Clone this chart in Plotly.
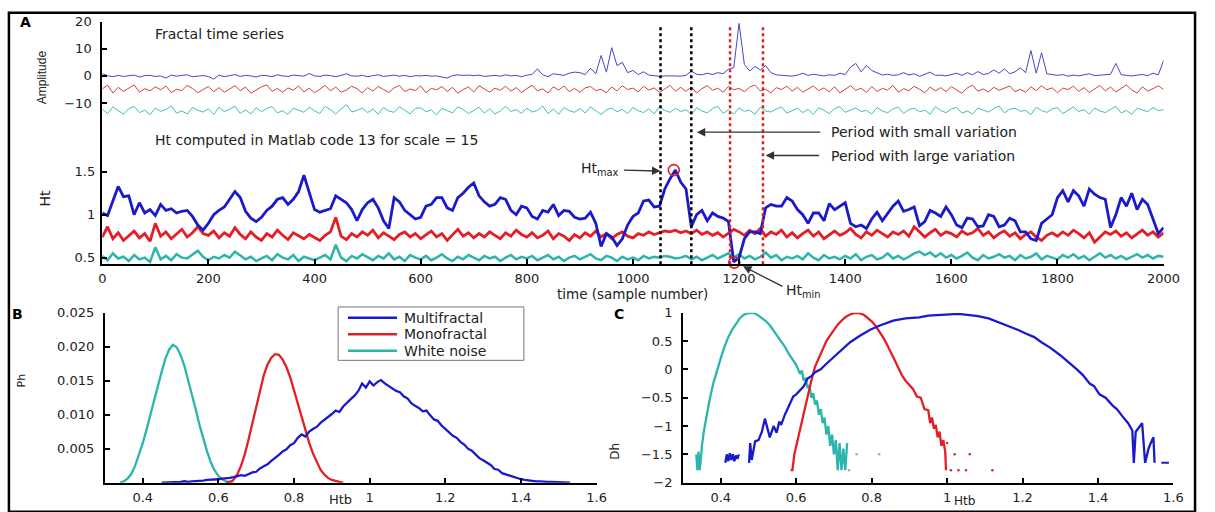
import numpy as np
import plotly.graph_objects as go

W, H = 1215, 512
FONT = "DejaVu Sans"


def px(x):
    return x / W


def py(y):
    return 1 - y / H


# ---------------- Panel A data (sample number every 10) ----------------
t = list(range(0, 2001, 10))

amp_multi = [
    0.8, 0.1, -0.3, 0.2, -0.2, 0.0, 0.3, -0.4, 0.1, 0.2,
    -0.2, 0.0, -0.8, 0.3, -0.1, 0.2, 0.4, -0.3, 0.0, 0.1,
    -0.2, -1.2, 0.3, -0.3, 0.1, 0.5, -0.2, 0.2, 0.0, -0.4,
    0.2, 0.1, -0.3, 0.4, 0.0, -0.2, 0.3, 0.1, -0.1, 0.9,
    0.0, -0.2, 0.3, 0.1, -0.3, 0.2, 0.8, 0.0, -0.1, 0.2,
    -0.3, 0.1, 0.4, -0.2, 0.0, 0.3, -0.1, 0.2, -0.3, 0.1,
    0.0, 0.2, -0.1, 0.0, -0.4, -0.8, 0.1, 0.4, 0.2, 0.3,
    0.1, 0.3, -0.2, 0.0, 0.2, -0.1, 0.4, 0.0, 0.2, -0.3,
    0.3, 0.5, 2.6, 0.4, -0.3, 0.8, 0.5, 0.2, 1.0, 1.4,
    1.2, 0.5, 2.8, 0.8, 7.5, 1.4, 10.4, 3.8, 5.0, 1.2,
    2.0, 0.5, 1.5, 0.3, 0.1, -0.2, 0.0, 0.1, 0.0, -0.1,
    0.2, 1.8, 0.6, 0.4, 1.0, 0.5, 1.2, 0.8, 2.5, 3.0,
    19.3, 4.2, 1.8, 3.5, 2.2, 3.8, 1.2, 0.4, 0.2, 0.1,
    -0.1, 0.3, 1.0, 0.2, 0.6, 0.3, 0.0, 0.4, 0.2, 1.0,
    0.5, 3.2, 4.6, 1.5, 3.8, 2.0, 1.0, 0.3, 0.6, 0.2,
    0.4, 1.2, 0.3, 0.8, -0.2, 0.5, 1.4, 0.2, 0.3, 0.0,
    0.6, 1.0, 0.2, 1.2, 0.4, 1.6, 0.5, 0.9, 2.2, 1.0,
    2.6, 0.8, 1.5, 3.0, 1.2, 9.3, 1.0, 8.5, 0.8, 0.4,
    0.2, 0.5, -0.1, 0.3, 0.0, 0.4, 0.8, 0.1, 0.2, 0.3,
    0.6, 4.6, 0.5, 0.2, 0.0, 0.3, 0.5, 0.1, 1.0, 0.4,
    5.7,
]

amp_mono = [
    -4.8, -3.4, -6.3, -4.2, -5.7, -4.4, -3.3, -6.0, -4.7, -5.5,
    -4.0, -5.1, -3.7, -6.1, -4.9, -5.4, -3.5, -4.6, -6.2, -5.0,
    -3.9, -5.8, -4.3, -6.0, -4.8, -3.6, -5.4, -4.1, -6.4, -5.1,
    -4.0, -3.3, -5.7, -4.6, -6.0, -4.4, -5.3, -3.7, -5.9, -4.5,
    -6.2, -4.9, -3.5, -5.5, -4.1, -6.0, -5.2, -3.8, -4.7, -6.3,
    -4.3, -5.6, -3.9, -5.0, -6.1, -4.4, -3.5, -5.8, -4.8, -5.4,
    -3.7, -6.2, -4.6, -5.1, -3.9, -5.7, -4.2, -6.4, -5.0, -4.1,
    -5.9, -3.6, -4.9, -6.0, -4.5, -5.3, -3.8, -5.6, -4.3, -6.1,
    -4.7, -3.4, -5.5, -4.8, -6.3, -4.0, -5.2, -3.7, -5.8, -4.6,
    -6.0, -4.4, -3.9, -5.4, -4.9, -6.2, -4.1, -5.5, -3.6, -5.0,
    -4.5, -5.9, -3.8, -5.2, -4.4, -6.1, -4.8, -3.5, -5.6, -4.2,
    -5.7, -4.0, -6.3, -4.7, -3.6, -5.3, -4.5, -6.0, -3.9, -5.1,
    -4.6, -5.8, -4.1, -3.4, -5.5, -4.9, -6.2, -4.3, -5.0, -3.8,
    -5.6, -4.2, -6.0, -4.8, -3.7, -5.4, -4.4, -5.9, -4.0, -6.3,
    -4.9, -3.6, -5.3, -4.5, -6.1, -3.9, -5.7, -4.6, -5.2, -3.5,
    -6.0, -4.7, -5.4, -3.8, -4.9, -6.2, -4.1, -5.5, -4.3, -5.8,
    -3.9, -5.0, -6.4, -4.4, -3.4, -5.6, -4.8, -5.9, -4.2, -5.3,
    -4.6, -3.7, -5.8, -4.9, -6.0, -4.0, -5.4, -3.6, -5.1, -4.4,
    -6.2, -4.5, -5.0, -3.8, -5.7, -4.3, -6.1, -4.8, -3.5, -5.5,
    -4.1, -5.9, -4.6, -3.3, -5.2, -6.3, -4.0, -5.6, -4.7, -3.6,
    -5.0,
]

amp_white = [
    -12.2, -13.9, -11.4, -12.8, -14.1, -12.0, -11.2, -13.5, -12.6, -14.3,
    -11.8, -13.0, -12.4, -11.0, -13.7, -12.9, -14.0, -11.6, -12.7, -13.3,
    -12.1, -14.2, -11.5, -13.1, -12.3, -11.1, -13.8, -12.5, -14.0, -11.7,
    -13.2, -12.0, -11.3, -13.6, -12.8, -14.2, -11.9, -12.6, -13.4, -11.5,
    -12.9, -13.8, -11.2, -12.4, -14.0, -12.1, -10.6, -13.3, -12.7, -11.8,
    -13.5, -12.2, -14.1, -11.6, -12.9, -13.4, -11.3, -12.6, -14.0, -12.0,
    -11.7, -13.2, -12.5, -14.3, -11.9, -12.8, -13.6, -11.4, -12.3, -13.9,
    -12.6, -11.5, -13.7, -12.1, -14.0, -12.9, -11.2, -13.1, -12.4, -13.8,
    -11.9, -13.3, -12.7, -11.1, -13.9, -12.2, -14.1, -11.6, -12.8, -13.4,
    -12.0, -13.7, -11.4, -12.9, -14.2, -12.5, -11.8, -13.2, -12.3, -13.9,
    -11.6, -12.8, -13.5, -12.1, -14.0, -11.3, -12.7, -13.4, -11.9, -13.1,
    -12.4, -14.2, -11.7, -12.9, -13.6, -12.0, -11.2, -13.8, -12.5, -14.0,
    -11.8, -13.0, -12.6, -14.1, -11.5, -12.9, -13.3, -12.2, -11.4, -13.7,
    -12.8, -11.9, -13.5, -12.3, -14.2, -11.7, -12.6, -13.9, -12.0, -11.3,
    -13.4, -12.5, -11.8, -13.1, -12.7, -14.0, -11.6, -12.9, -13.6, -12.1,
    -11.5, -13.8, -12.4, -11.9, -13.2, -12.6, -14.1, -11.3, -12.8, -13.5,
    -12.2, -11.6, -13.7, -12.9, -14.0, -11.8, -12.5, -13.3, -12.0, -11.1,
    -13.6, -12.3, -11.9, -13.0, -12.7, -14.2, -11.5, -12.8, -13.4, -12.1,
    -11.7, -13.9, -12.6, -11.4, -13.1, -12.4, -14.0, -11.8, -12.9, -13.5,
    -12.3, -11.2, -13.6, -12.7, -14.1, -11.9, -12.5, -13.2, -11.6, -12.8,
    -12.4,
]

ht_multi = [
    1.02, 0.99, 1.16, 1.33, 1.21, 1.22, 1.00, 1.14, 1.02, 1.06,
    0.99, 1.12, 1.05, 1.07, 1.02, 1.04, 1.05, 0.98, 0.88, 0.82,
    0.90, 1.00, 1.05, 1.09, 1.18, 1.27, 1.20, 1.04, 0.96, 0.92,
    0.97, 1.05, 1.10, 1.18, 1.20, 1.12, 1.18, 1.27, 1.46, 1.26,
    1.06, 1.03, 1.05, 1.07, 1.22, 1.18, 1.14, 1.06, 0.93, 1.06,
    1.14, 1.18, 1.08, 0.93, 0.84, 1.20, 1.15, 1.05, 1.00, 0.95,
    0.97, 1.10, 1.12, 1.20, 1.20, 1.08, 1.05, 1.20, 1.25, 1.32,
    1.37, 1.22, 1.15, 1.10, 1.12, 1.20, 1.18, 1.05, 1.00, 1.10,
    1.08, 0.98, 0.95, 1.05, 1.03, 1.12, 0.99, 1.05, 1.04, 0.97,
    0.95, 0.96, 1.03, 0.90, 0.63, 0.78, 0.74, 0.64, 0.72, 0.88,
    0.98, 1.02, 1.16, 1.17, 1.09, 1.10, 1.30, 1.42, 1.52, 1.38,
    1.30, 0.86, 1.00, 1.05, 0.93, 1.02, 0.98, 0.96, 0.92, 0.45,
    0.50, 0.72, 0.80, 0.80, 0.78, 1.08, 1.12, 1.10, 1.10, 1.20,
    1.16, 1.06, 1.00, 0.90, 1.02, 1.02, 0.93, 1.13, 1.06, 1.10,
    1.14, 0.90, 0.86, 0.88, 0.84, 0.95, 1.03, 0.93, 1.02, 1.10,
    1.16, 1.04, 1.06, 1.09, 0.87, 0.92, 1.05, 1.02, 0.98, 1.09,
    1.00, 0.88, 0.85, 0.96, 0.95, 0.86, 0.87, 1.00, 0.98, 0.86,
    0.88, 0.96, 0.93, 0.80, 0.80, 0.72, 0.70, 0.90, 0.95, 1.00,
    1.20, 1.28, 1.15, 1.28, 1.22, 1.10, 1.30, 1.24, 1.20, 1.18,
    0.85, 1.00, 1.20, 1.10, 1.25, 1.06, 1.18, 1.12, 0.95, 0.78,
    0.85,
]

ht_mono = [
    0.74, 0.86, 0.72, 0.79, 0.70, 0.76, 0.81, 0.73, 0.78, 0.69,
    0.90, 0.75, 0.80, 0.72, 0.77, 0.83, 0.74, 0.79, 0.86, 0.78,
    0.76, 0.81, 0.73, 0.79, 0.75, 0.85, 0.77, 0.72, 0.80, 0.74,
    0.70, 0.78, 0.74, 0.82, 0.76, 0.71, 0.79, 0.75, 0.72, 0.77,
    0.73, 0.70, 0.76, 0.80, 0.97, 0.75, 0.71, 0.78, 0.74, 0.80,
    0.76, 0.82, 0.73, 0.79, 0.75, 0.71, 0.77, 0.80, 0.74, 0.78,
    0.72, 0.76, 0.81, 0.74, 0.78, 0.70, 0.76, 0.83, 0.75, 0.79,
    0.73, 0.78, 0.74, 0.80, 0.76, 0.72, 0.79, 0.75, 0.82, 0.77,
    0.74, 0.79, 0.73, 0.76, 0.81, 0.72, 0.78, 0.75, 0.70, 0.77,
    0.73, 0.79, 0.75, 0.81, 0.74, 0.78, 0.72, 0.77, 0.80, 0.75,
    0.73, 0.78, 0.76, 0.80, 0.77, 0.79, 0.81, 0.80, 0.82, 0.79,
    0.81, 0.78, 0.82, 0.77, 0.80, 0.76, 0.79, 0.74, 0.78, 0.83,
    0.80, 0.76, 0.82, 0.78, 0.84, 0.75, 0.80, 0.77, 0.82, 0.74,
    0.79, 0.73, 0.78, 0.82, 0.75, 0.80, 0.72, 0.77, 0.81, 0.76,
    0.79, 0.84, 0.77, 0.73, 0.80, 0.76, 0.82, 0.78, 0.74, 0.80,
    0.77, 0.81, 0.75, 0.86, 0.80, 0.74, 0.79, 0.83, 0.76, 0.80,
    0.78, 0.74, 0.81, 0.77, 0.79, 0.84, 0.76, 0.80, 0.73, 0.78,
    0.81, 0.75, 0.79, 0.72, 0.77, 0.80, 0.74, 0.70, 0.76, 0.79,
    0.75, 0.80, 0.76, 0.82, 0.78, 0.73, 0.79, 0.68, 0.74, 0.80,
    0.77, 0.81, 0.75, 0.79, 0.73, 0.78, 0.82, 0.76, 0.80, 0.74,
    0.79,
]

ht_white = [
    0.52, 0.47, 0.55, 0.49, 0.51, 0.46, 0.53, 0.48, 0.50, 0.45,
    0.62, 0.48, 0.52, 0.47, 0.54, 0.50, 0.49, 0.53, 0.58, 0.51,
    0.47, 0.51, 0.49, 0.53, 0.50, 0.57, 0.52, 0.48, 0.51, 0.46,
    0.49, 0.52, 0.47, 0.54, 0.50, 0.48, 0.53, 0.46, 0.51, 0.49,
    0.47, 0.50, 0.53, 0.48, 0.65, 0.50, 0.46, 0.52, 0.49, 0.54,
    0.50, 0.47, 0.52, 0.49, 0.55, 0.48, 0.51, 0.46, 0.53, 0.50,
    0.48, 0.52, 0.47, 0.50, 0.54, 0.49, 0.46, 0.51, 0.48, 0.53,
    0.50, 0.47, 0.52, 0.49, 0.51, 0.46, 0.50, 0.53, 0.48, 0.51,
    0.49, 0.52, 0.47, 0.50, 0.53, 0.48, 0.51, 0.46, 0.50, 0.52,
    0.48, 0.51, 0.54, 0.49, 0.47, 0.52, 0.50, 0.46, 0.51, 0.48,
    0.50, 0.47, 0.52, 0.49, 0.51, 0.50, 0.52, 0.51, 0.49, 0.50,
    0.52, 0.48, 0.51, 0.47, 0.50, 0.53, 0.49, 0.52, 0.55, 0.50,
    0.54, 0.49, 0.52, 0.48, 0.51, 0.56, 0.50, 0.53, 0.47, 0.51,
    0.49, 0.52, 0.48, 0.55, 0.50, 0.47, 0.53, 0.49, 0.51, 0.48,
    0.52, 0.49, 0.54, 0.47, 0.51, 0.53, 0.48, 0.50, 0.55, 0.49,
    0.52, 0.48, 0.51, 0.55, 0.57, 0.53, 0.56, 0.51, 0.55, 0.50,
    0.53, 0.49, 0.52, 0.56, 0.50, 0.47, 0.53, 0.49, 0.51, 0.54,
    0.50, 0.52, 0.47, 0.53, 0.49, 0.51, 0.55, 0.48, 0.52, 0.50,
    0.48, 0.53, 0.50, 0.54, 0.49, 0.52, 0.47, 0.51, 0.55, 0.50,
    0.53, 0.49, 0.52, 0.48, 0.51, 0.54, 0.50, 0.53, 0.49, 0.52,
    0.51,
]

ht_extreme_t = [1077, 1191]
ht_extreme_v = [1.52, 0.442]
small_period = [1052, 1110]
large_period = [1183, 1245]

# ---------------- Panel B data ----------------
ph_white_x = np.linspace(0.34, 0.64, 31)
ph_white = [
    0.0000, 0.0002, 0.0006, 0.0013, 0.0025, 0.0040, 0.0058, 0.0078, 0.0098, 0.0120,
    0.0142, 0.0163, 0.0183, 0.0196, 0.0203, 0.0199, 0.0188, 0.0172, 0.0152, 0.0130,
    0.0108, 0.0085, 0.0064, 0.0046, 0.0030, 0.0018, 0.0010, 0.0005, 0.0002, 0.0001,
    0.0000,
]
ph_mono_x = np.linspace(0.62, 0.93, 32)
ph_mono = [
    0.0000, 0.0001, 0.0004, 0.0012, 0.0025, 0.0042, 0.0064, 0.0088, 0.0112, 0.0136,
    0.0158, 0.0174, 0.0184, 0.0189, 0.0188, 0.0181, 0.0170, 0.0155, 0.0136, 0.0116,
    0.0096, 0.0077, 0.0059, 0.0043, 0.0030, 0.0019, 0.0012, 0.0007, 0.0004, 0.0002,
    0.0001, 0.0000,
]
ph_multi_x = np.linspace(0.45, 1.53, 109)
ph_multi = [
    0.0000, 0.0000, 0.0001, 0.0001, 0.0001, 0.0001, 0.0002, 0.0001, 0.0002, 0.0002,
    0.0003, 0.0003, 0.0004, 0.0004, 0.0005, 0.0005, 0.0006, 0.0006, 0.0007, 0.0008,
    0.0010, 0.0011, 0.0010, 0.0013, 0.0015, 0.0016, 0.0021, 0.0024, 0.0027, 0.0032,
    0.0036, 0.0041, 0.0046, 0.0049, 0.0055, 0.0058, 0.0066, 0.0071, 0.0068, 0.0075,
    0.0079, 0.0082, 0.0088, 0.0092, 0.0097, 0.0101, 0.0106, 0.0104, 0.0112, 0.0118,
    0.0123, 0.0128, 0.0135, 0.0146, 0.0140, 0.0149, 0.0143, 0.0148, 0.0151, 0.0146,
    0.0142, 0.0138, 0.0135, 0.0133, 0.0127, 0.0124, 0.0117, 0.0113, 0.0110, 0.0105,
    0.0106, 0.0099, 0.0093, 0.0091, 0.0084, 0.0079, 0.0074, 0.0069, 0.0066, 0.0060,
    0.0056, 0.0050, 0.0047, 0.0042, 0.0036, 0.0033, 0.0029, 0.0026, 0.0020, 0.0019,
    0.0014, 0.0012, 0.0010, 0.0008, 0.0006, 0.0005, 0.0004, 0.0003, 0.0003, 0.0002,
    0.0002, 0.0001, 0.0001, 0.0001, 0.0001, 0.0000, 0.0001, 0.0000, 0.0000,
]

# ---------------- Panel C data ----------------
dh_white_x = [0.335, 0.338, 0.341, 0.344, 0.347, 0.350, 0.355, 0.36, 0.37, 0.38,
              0.39, 0.40, 0.41, 0.42, 0.43, 0.44, 0.45, 0.46, 0.47, 0.48,
              0.49, 0.50, 0.51, 0.52, 0.53, 0.54, 0.55, 0.56, 0.57, 0.58,
              0.59, 0.60, 0.61, 0.615, 0.62, 0.625, 0.63, 0.635, 0.64, 0.645,
              0.65, 0.655, 0.66, 0.665, 0.67, 0.675, 0.68, 0.685, 0.69, 0.695,
              0.70, 0.705, 0.71, 0.715, 0.72, 0.725, 0.73, 0.735]
dh_white = [-1.5, -1.78, -1.45, -1.78, -1.6, -1.35, -1.1, -0.9, -0.55, -0.25,
            0.0, 0.2, 0.4, 0.57, 0.7, 0.81, 0.9, 0.96, 0.99, 1.0,
            0.99, 0.95, 0.9, 0.85, 0.78, 0.69, 0.59, 0.51, 0.4, 0.28,
            0.18, 0.08, -0.08, -0.02, -0.2, -0.15, -0.33, -0.28, -0.5, -0.42,
            -0.62, -0.55, -0.8, -0.7, -0.95, -0.85, -1.15, -1.0, -1.35, -1.15,
            -1.5, -1.25, -1.78, -1.3, -1.78, -1.4, -1.78, -1.3]

dh_mono_x = [0.585, 0.59, 0.595, 0.60, 0.605, 0.61,
             0.62, 0.63, 0.64, 0.65, 0.66, 0.67, 0.68, 0.69, 0.70, 0.71,
             0.72, 0.73, 0.74, 0.75, 0.76, 0.77, 0.78, 0.79, 0.80, 0.81,
             0.82, 0.83, 0.84, 0.85, 0.86, 0.87, 0.88, 0.89, 0.90, 0.91,
             0.92, 0.93, 0.94, 0.95,
             0.955, 0.96, 0.965, 0.97, 0.975, 0.98, 0.985, 0.99, 0.995, 0.997]
dh_mono = [-1.78, -1.78, -1.5, -1.35, -1.2, -1.05,
           -0.75, -0.45, -0.2, 0.05, 0.2, 0.37, 0.5, 0.6, 0.7, 0.79,
           0.86, 0.92, 0.96, 0.99, 1.0, 0.99, 0.96, 0.91, 0.85, 0.77,
           0.68, 0.57, 0.45, 0.3, 0.18, 0.04, -0.1, -0.2, -0.28, -0.35,
           -0.48, -0.5, -0.7, -0.72,
           -0.95, -0.85, -1.05, -0.98, -1.2, -1.1, -1.35, -1.25, -1.45, -1.78]

dh_multi_x = [0.412, 0.416, 0.420, 0.424, 0.428, 0.432, 0.436, 0.440, 0.444, 0.448, None,
              0.475, 0.478, 0.482, 0.487, 0.491, 0.50, 0.509, 0.517, 0.523, 0.53,
              0.54, 0.548, 0.555, 0.56, 0.57, 0.58, 0.592, 0.60, 0.613, 0.62,
              0.63, 0.64, 0.65, 0.665, 0.68, 0.70, 0.72, 0.743, 0.77, 0.796,
              0.82, 0.857, 0.89, 0.926, 0.95, 0.978, 1.0, 1.03, 1.06, 1.082,
              1.11, 1.134, 1.16, 1.187, 1.21, 1.231, 1.25, 1.274, 1.30, 1.317,
              1.33, 1.344, 1.36, 1.378, 1.39, 1.404, 1.42, 1.439, 1.45, 1.465,
              1.48, 1.491, 1.495, 1.50, 1.51, 1.517, 1.525, 1.534, 1.54, 1.547, 1.55]
dh_multi = [-1.65, -1.5, -1.62, -1.48, -1.6, -1.5, -1.62, -1.52, -1.58, -1.5, None,
            -1.65, -1.3, -1.6, -1.4, -1.27, -1.25, -1.1, -0.87, -1.05, -1.2,
            -1.0, -1.12, -0.92, -0.98, -0.8, -0.65, -0.48, -0.44, -0.35, -0.3,
            -0.16, -0.12, -0.05, 0.0, 0.1, 0.22, 0.33, 0.48, 0.6, 0.7,
            0.77, 0.86, 0.9, 0.92, 0.95, 0.96, 0.97, 0.98, 0.96, 0.94,
            0.9, 0.84, 0.78, 0.7, 0.63, 0.57, 0.48, 0.38, 0.25, 0.16,
            0.08, 0.0, -0.1, -0.25, -0.3, -0.44, -0.5, -0.64, -0.7, -0.83,
            -0.95, -1.08, -1.65, -1.1, -1.0, -0.95, -1.65, -1.4, -1.3, -1.2, -1.65]

dots_red_x = [1.0, 1.02, 1.06, 1.01, 1.03, 1.05, 1.12]
dots_red_y = [-1.3, -1.5, -1.5, -1.78, -1.78, -1.78, -1.78]
dots_gray_x = [0.76, 0.82, 0.74]
dots_gray_y = [-1.5, -1.5, -1.78]
tail_blue_x = [1.568, 1.588]
tail_blue_y = [-1.65, -1.65]

# ---------------- Styles ----------------
BLUE = "#1a1acc"
RED = "#e41e26"
CYAN = "#2bb5ad"
BLUE_T = "#4646c8"
RED_T = "#d83c3c"
CYAN_T = "#3cc0b6"

fig = go.Figure()

# Panel A amplitude
for vals, col in [(amp_multi, BLUE_T), (amp_mono, RED_T), (amp_white, CYAN_T)]:
    fig.add_trace(go.Scatter(x=t, y=vals, mode="lines", line=dict(color=col, width=1),
                             xaxis="x", yaxis="y", showlegend=False, hoverinfo="skip"))
# Panel A Ht
for vals, col, w in [(ht_white, CYAN, 2.5), (ht_mono, RED, 2.8), (ht_multi, BLUE, 2.8)]:
    fig.add_trace(go.Scatter(x=t, y=vals, mode="lines", line=dict(color=col, width=w),
                             xaxis="x", yaxis="y2", showlegend=False, hoverinfo="skip"))
fig.add_trace(go.Scatter(x=ht_extreme_t, y=ht_extreme_v, mode="markers",
                         marker=dict(symbol="circle-open", size=11, color="#e02020",
                                     line=dict(width=1.6, color="#e02020")),
                         xaxis="x", yaxis="y2", showlegend=False, cliponaxis=False))

# Panel B
for xs, vals, col in [(ph_white_x, ph_white, CYAN), (ph_mono_x, ph_mono, RED), (ph_multi_x, ph_multi, BLUE)]:
    fig.add_trace(go.Scatter(x=xs, y=vals, mode="lines", line=dict(color=col, width=2.3),
                             xaxis="x2", yaxis="y3", showlegend=False, cliponaxis=False))

# Panel C
for xs, vals, col in [(dh_white_x, dh_white, CYAN), (dh_mono_x, dh_mono, RED), (dh_multi_x, dh_multi, BLUE)]:
    fig.add_trace(go.Scatter(x=xs, y=vals, mode="lines", line=dict(color=col, width=2.3),
                             xaxis="x3", yaxis="y4", showlegend=False, connectgaps=False))
fig.add_trace(go.Scatter(x=dots_red_x, y=dots_red_y, mode="markers",
                         marker=dict(color=RED, size=2.5), xaxis="x3", yaxis="y4", showlegend=False))
fig.add_trace(go.Scatter(x=dots_gray_x, y=dots_gray_y, mode="markers",
                         marker=dict(color="#9ab", size=2.5), xaxis="x3", yaxis="y4", showlegend=False))
fig.add_trace(go.Scatter(x=tail_blue_x, y=tail_blue_y, mode="lines",
                         line=dict(color=BLUE, width=2), xaxis="x3", yaxis="y4", showlegend=False))

# ---------------- Axes ----------------
tickfont = dict(family=FONT, size=13, color="#222")
common = dict(showline=True, linecolor="black", linewidth=2, ticks="inside", ticklen=5,
              tickwidth=1.5, tickcolor="black", showgrid=False, zeroline=False,
              tickfont=tickfont, ticklabelstandoff=6)

BC_TOP, BC_BOT = 315, 490
A_dom_y = [py(265), py(15)]
BC_dom_y = [py(BC_BOT), py(BC_TOP)]
xB = [0.4, 0.6, 0.8, 1.0, 1.2, 1.4, 1.6]
xB_txt = ["0.4", "0.6", "0.8", "1", "1.2", "1.4", "1.6"]

fig.update_layout(
    width=W, height=H, margin=dict(l=0, r=0, t=0, b=0),
    paper_bgcolor="white", plot_bgcolor="white", showlegend=False,
    xaxis=dict(common, domain=[px(100), px(1180)], range=[0, 2000], anchor="y",
               tickvals=list(range(0, 2001, 200)), ticklabelstandoff=1),
    yaxis=dict(common, domain=A_dom_y, range=[-69.3, 20], anchor="x",
               tickvals=[-10, 0, 10, 20]),
    yaxis2=dict(common, overlaying="y", range=[0.423, 3.251], anchor="x", side="left",
                tickvals=[0.5, 1, 1.5], ticktext=["0.5", "1", "1.5"], showline=False),
    xaxis2=dict(common, domain=[px(102.7), px(603)], range=[0.3, 1.6], anchor="y3",
                tickvals=xB, ticktext=xB_txt, ticklabelstandoff=2),
    yaxis3=dict(common, domain=BC_dom_y, range=[0, 0.025], anchor="x2",
                tickvals=[0.005, 0.010, 0.015, 0.020, 0.025],
                ticktext=["0.005", "0.010", "0.015", "0.020", "0.025"]),
    xaxis3=dict(common, domain=[px(691), px(1190)], range=[0.3, 1.6], anchor="y4",
                tickvals=xB, ticktext=xB_txt, ticklabelstandoff=2),
    yaxis4=dict(common, domain=BC_dom_y, range=[-2, 1], anchor="x3",
                tickvals=[-2, -1.5, -1, -0.5, 0, 0.5, 1]),
)

# ---------------- Shapes ----------------
shapes = [
    dict(type="rect", xref="paper", yref="paper", x0=px(5), x1=px(1212), y0=py(520), y1=py(6),
         line=dict(color="black", width=2.5), fillcolor="rgba(0,0,0,0)", layer="above"),
]
for xv in small_period:
    shapes.append(dict(type="line", xref="x", yref="paper", x0=xv, x1=xv, y0=py(265), y1=py(18),
                       line=dict(color="black", width=2.5, dash="dot")))
for xv in large_period:
    shapes.append(dict(type="line", xref="x", yref="paper", x0=xv, x1=xv, y0=py(265), y1=py(18),
                       line=dict(color="#e02020", width=2.5, dash="dot")))
# legend box (panel B)
shapes.append(dict(type="rect", xref="paper", yref="paper", x0=px(340), x1=px(529), y0=py(364), y1=py(309),
                   line=dict(color="#777", width=1), fillcolor="white", layer="above"))
leg_items = [("Multifractal", BLUE, 320), ("Monofractal", RED, 337), ("White noise", CYAN, 354)]
for name, col, yy in leg_items:
    shapes.append(dict(type="line", xref="paper", yref="paper", x0=px(350), x1=px(400), y0=py(yy), y1=py(yy),
                       line=dict(color=col, width=2.5), layer="above"))
fig.update_layout(shapes=shapes)


# ---------------- Annotations ----------------
def txt(x, y, s, size=14, xanchor="left", angle=0, bold=False, color="#222", family=FONT):
    return dict(x=px(x), y=py(y), xref="paper", yref="paper",
                text=f"<b>{s}</b>" if bold else s, showarrow=False,
                xanchor=xanchor, yanchor="middle", textangle=angle,
                font=dict(family=family, size=size, color=color))


def arrow(hx, hy, tx, ty):
    return dict(x=px(hx), y=py(hy), xref="paper", yref="paper", ax=tx - hx, ay=ty - hy,
                text="", showarrow=True, arrowhead=2, arrowsize=1.3, arrowwidth=1.3,
                arrowcolor="#333")


def ylev(v, lo, hi):
    return BC_BOT - (v - lo) / (hi - lo) * (BC_BOT - BC_TOP)


ann = [
    txt(22, 15, "A", size=14, xanchor="center", bold=True, color="black"),
    txt(14, 316, "B", size=14, xanchor="center", bold=True, color="black"),
    txt(626, 316, "C", size=14, xanchor="center", bold=True, color="black"),
    txt(152, 28, "Fractal time series", size=14),
    txt(152, 137, "Ht computed in Matlab code 13 for scale = 15", size=14),
    txt(840, 129, "Period with small variation", size=14),
    txt(840, 153, "Period with large variation", size=14),
    txt(628, 167, "Ht<sub>max</sub>", size=14, xanchor="right"),
    txt(794, 293, "Ht<sub>min</sub>", size=14),
    txt(640, 296, "time (sample number)", size=13.5, xanchor="center"),
    txt(39, 72, "Amplitude", size=12, xanchor="center", angle=-90, family="Liberation Sans Narrow, Liberation Sans"),
    txt(42, 197, "Ht", size=14, xanchor="center", angle=-90),
    txt(18, ylev(0.015, 0, 0.025), "Ph", size=11, xanchor="center", angle=-90),
    txt(622, ylev(-1.5, -2, 1) - 3, "Dh", size=12, xanchor="center", angle=-90),
    txt(342, 507, "Htb", size=13, xanchor="center"),
    txt(977, 509, "Htb", size=12, xanchor="center"),
    arrow(705, 129, 830, 129),
    arrow(775, 153, 830, 153),
    arrow(668, 169, 630, 168),
    arrow(752, 267, 793, 288),
]
for name, col, yy in leg_items:
    ann.append(txt(405, yy, name, size=14))
fig.update_layout(annotations=ann)

fig.write_html("out.html")
